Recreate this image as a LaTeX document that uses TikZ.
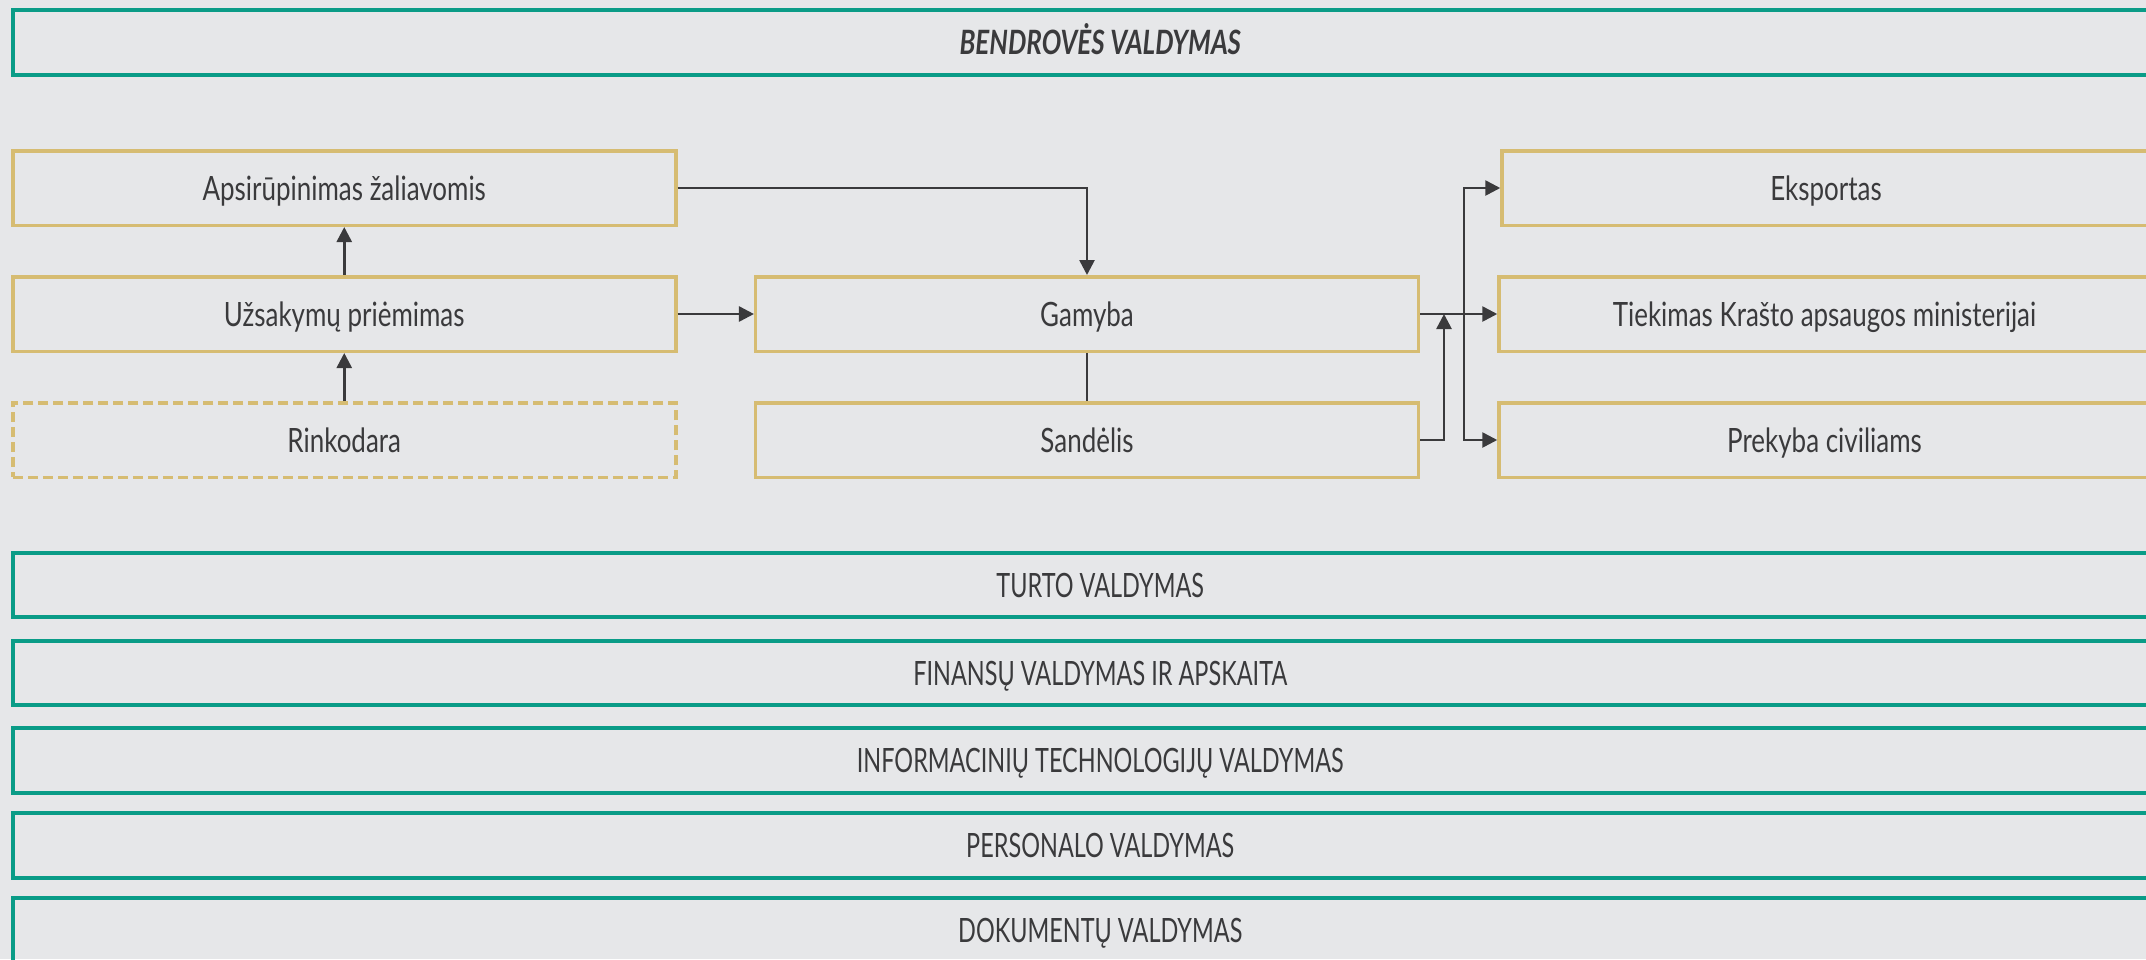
\documentclass[tikz,border=0pt]{standalone}
\usepackage{fontspec}
\setmainfont{Lato}[FakeStretch=0.775]
\newfontfamily\capsfont{Lato}[FakeStretch=0.70]
\usepackage{tikz}
\usetikzlibrary{arrows.meta}
\definecolor{bgcol}{HTML}{E6E7E9}
\definecolor{tealcol}{HTML}{0A9C87}
\definecolor{goldcol}{HTML}{D6BC72}
\definecolor{inkcol}{HTML}{3A3A3C}
\begin{document}
\begin{tikzpicture}[x=1pt, y=-1pt,
    every node/.style={text=inkcol, font=\fontsize{33.5}{40}\selectfont, text height=24pt, text depth=0pt, inner sep=0pt},
    tealbox/.style={draw=tealcol, line width=4pt, minimum width=2175.5pt, minimum height=64.5pt, font=\capsfont\fontsize{33.5}{40}\selectfont},
    goldbox/.style={draw=goldcol, line width=3.5pt, minimum width=663pt, minimum height=74.5pt},
    conn/.style={draw=inkcol, line width=2.6pt, -{Triangle[length=15pt,width=15pt]}}]
        \clip (0,0) rectangle (2146,959);
        \fill [bgcol] (0,0) rectangle (2146,959);                                 %background

        \node [tealbox, text height=23pt, font=\fontsize{33.5}{40}\selectfont] (bendrove) at (1100.25,42.5) {\bfseries\itshape BENDROVĖS VALDYMAS};

        \node [goldbox] (apsirup)   at (344.25,188) {Apsirūpinimas žaliavomis};  %left
        \node [goldbox] (uzsak)     at (344.25,314) {Užsakymų priėmimas};        %
        \node [goldbox, dash pattern=on 10pt off 5pt] (rinko) at (344.25,440) {Rinkodara};
        \node [goldbox, minimum width=662.6pt] (gamyba)   at (1087,314) {Gamyba};   %middle
        \node [goldbox, minimum width=662.6pt] (sandelis) at (1087,440) {Sandėlis}; %
        \node [goldbox, minimum width=648pt] (eksportas)  at (1826,188) {Eksportas};  %right
        \node [goldbox, minimum width=651pt] (tiekimas)   at (1824.5,314) {Tiekimas Krašto apsaugos ministerijai};
        \node [goldbox, minimum width=651pt] (prekyba)    at (1824.5,440) {Prekyba civiliams};

        \coordinate (join)  at (1444,314);                                         %
        \coordinate (split) at (1464,314);                                         %

        \draw [conn]    (rinko.north)   -- (uzsak.south);                          %
        \draw [conn]    (uzsak.north)   -- (apsirup.south);                        %
        \draw [conn]    (uzsak.east)    -- (gamyba.west);                          %
        \draw [conn]    (apsirup.east)  -| (gamyba.north);                         %
        \draw [conn, -] (gamyba.south)  -- (sandelis.north);                       %
        \draw [conn]    (gamyba.east)   -- (tiekimas.west);                        %
        \draw [conn]    (sandelis.east) -| (join);                                 %
        \draw [conn]    (split)         |- (eksportas.west);                       %
        \draw [conn]    (split)         |- (prekyba.west);                         %

        \node [tealbox] (turtas)    at (1100.25,585)   {TURTO VALDYMAS};           %bottom
        \node [tealbox] (finansai)  at (1100.25,673)   {FINANSŲ VALDYMAS IR APSKAITA};
        \node [tealbox] (it)        at (1100.25,760.5) {INFORMACINIŲ TECHNOLOGIJŲ VALDYMAS};
        \node [tealbox] (personalas) at (1100.25,845.5) {PERSONALO VALDYMAS};      %
        \node [tealbox] (dokumentai) at (1100.25,930)   {DOKUMENTŲ VALDYMAS};      %
\end{tikzpicture}
\end{document}
